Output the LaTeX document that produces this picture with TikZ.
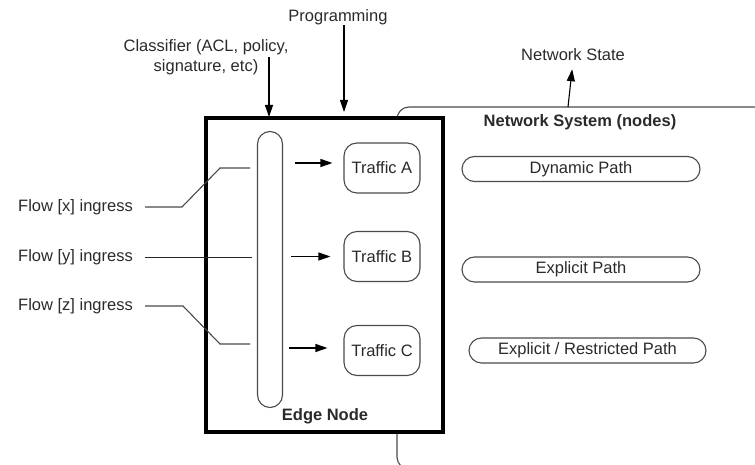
\documentclass[tikz,border=0pt]{standalone}
\usepackage{fontspec}
\setmainfont{Liberation Sans}
\usetikzlibrary{arrows.meta}
\definecolor{ink}{HTML}{2A2A2A}
\definecolor{wire}{HTML}{4A4A4A}
\begin{document}
\begin{tikzpicture}[x=1pt,y=-1pt,
  font=\fontsize{16.5}{19.5}\selectfont,
  txt/.style={text=ink, inner sep=0pt},
  bold/.style={txt, font=\fontsize{16.5}{19.5}\selectfont\bfseries},
  wireline/.style={draw=wire, line width=1.1pt},
  arr/.style={draw=black, line width=1.1pt, -{Triangle[length=12pt,width=8pt]}},
  trafficbox/.style={draw=wire, line width=1.1pt, rounded corners=13pt,
    minimum width=76pt, minimum height=50pt, text=ink, inner sep=0pt},
  pathbox/.style={draw=wire, line width=1.1pt, rounded corners=12.5pt,
    minimum width=238pt, minimum height=25pt, text=ink, inner sep=0pt}]

\useasboundingbox (0,0) rectangle (755,465);

% network system outline (runs off the right and bottom edges)
\begin{scope}
  \clip (0,0) rectangle (755,465);
  \draw[wireline, rounded corners=12pt] (397,107) rectangle (766,469);
\end{scope}
\coordinate (nstop) at (568,107);
\node[txt] (state) at (573,55) {Network State};
\draw[arr, shorten >=8pt] (nstop) -- (state.south);
\node[bold] (nslabel) at (580,122) {Network System (nodes)};

% path types through the network
\node[pathbox] (dyn) at (581,169) {Dynamic Path};
\node[pathbox] (expl) at (581,269.5) {Explicit Path};
\node[pathbox, minimum width=237pt] (restr) at (587.5,350.5) {Explicit / Restricted Path};

% edge node
\node[draw=black, line width=4pt, fill=white, minimum width=237pt,
  minimum height=314pt, inner sep=0pt] (edgebox) at (324.5,275) {};
\node[bold] (edgelabel) at (325,416) {Edge Node};

% classifier bar
\node[draw=wire, line width=1.1pt, rounded corners=12.5pt, minimum width=25pt,
  minimum height=276pt, inner sep=0pt] (bar) at (270,269.5) {};

% traffic classes
\node[trafficbox] (tA) at (382,168) {Traffic A};
\node[trafficbox] (tB) at (382,256.5) {Traffic B};
\node[trafficbox] (tC) at (382,350.5) {Traffic C};

\draw[arr, shorten <=12pt, shorten >=11pt] ([yshift=5pt]tA.west -| bar.east) -- ([yshift=5pt]tA.west);
\draw[arr, shorten <=8pt, shorten >=13pt] (tB.west -| bar.east) -- (tB.west);
\draw[arr, shorten <=6pt, shorten >=16pt] ([yshift=2.5pt]tC.west -| bar.east) -- ([yshift=2.5pt]tC.west);

% control inputs from above
\node[txt] (prog) at (338,17) {Programming};
\coordinate (progtop) at (344,25);
\coordinate (progtip) at (344,112);
\draw[arr] (progtop) -- (progtip);

\node[txt, align=center] (cls) at (206,57) {Classifier (ACL, policy,\\signature, etc)};
\coordinate (clstop) at (269,57);
\coordinate (clstip) at (269,117);
\draw[arr] (clstop) -- (clstip);

% ingress flows
\node[txt, anchor=east] (fx) at (133,207) {Flow [x] ingress};
\node[txt, anchor=east] (fy) at (133,257) {Flow [y] ingress};
\node[txt, anchor=east] (fz) at (133,306) {Flow [z] ingress};
\coordinate (xin) at (250,168);
\coordinate (yin) at (252,257);
\coordinate (zin) at (250,344);
\draw[wireline] ([xshift=12pt]fx.east) -- (182,207) -- (220,168) -- (xin);
\draw[draw=black!85, line width=1pt] ([xshift=12pt]fy.east) -- (yin);
\draw[wireline] ([xshift=12pt]fz.east) -- (183,306) -- (220,344) -- (zin);
\end{tikzpicture}
\end{document}
